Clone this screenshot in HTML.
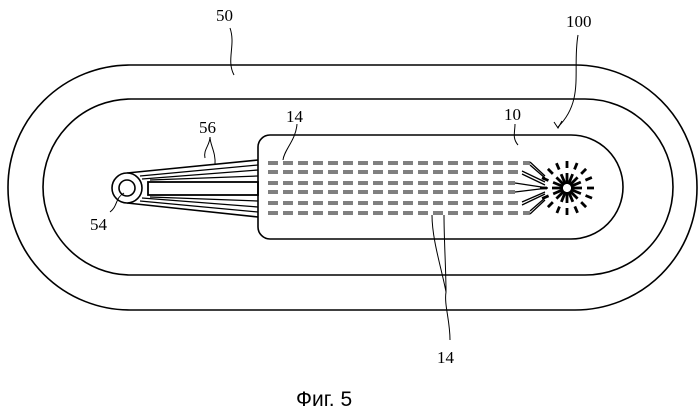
<!DOCTYPE html>
<html><head><meta charset="utf-8"><style>
html,body{margin:0;padding:0;background:#fff;}
svg{display:block;}
text{font-family:"Liberation Serif",serif;font-size:17px;fill:#000;}
</style></head><body>
<svg width="699" height="410" viewBox="0 0 699 410" xmlns="http://www.w3.org/2000/svg">
<g fill="none" stroke="#000" stroke-width="1.6">
<rect x="8" y="65" width="689" height="245" rx="122" ry="122"/>
<rect x="43" y="99" width="630" height="176" rx="88" ry="88"/>
<path d="M270 135 H571 A52 52 0 0 1 571 239 H270 A12 12 0 0 1 258 227 V147 A12 12 0 0 1 270 135 Z"/>
<path d="M127 173 L258 160 M127 203 L258 217"/>
<circle cx="127" cy="188" r="15" fill="#fff"/>
<circle cx="127" cy="188" r="8"/>
<rect x="148" y="182" width="110" height="13" stroke-width="1.8"/>
</g>
<g stroke="#000" stroke-width="1.3" fill="none">
<path d="M140 176 L258 165 M142 179 L258 170 M142 198 L258 207 M140 201 L258 212"/>
<path d="M150 180 L258 176 M150 197 L258 201"/>
</g>
<g stroke="#000" stroke-width="3" fill="none" stroke-dasharray="10,5">
<path d="M268 163 H530"/>
<path d="M268 172 H522"/>
<path d="M268 183 H515"/>
<path d="M268 192 H515"/>
<path d="M268 203 H522"/>
<path d="M268 213 H530"/>
</g>
<g stroke="#fff" stroke-width="1" fill="none">
<path d="M268 163 H530 M268 172 H522 M268 183 H515 M268 192 H515 M268 203 H522 M268 213 H530"/>
</g>
<g stroke="#000" stroke-width="1.3" fill="none">
<path d="M530 162 L545 176 M530 165 L545 178 M522 171 L545 182 M522 174 L545 185"/>
<path d="M530 211 L545 198 M530 214 L545 200 M522 202 L545 192 M522 205 L545 194"/>
<path d="M515 183 L548 188 M515 192 L548 188"/>
</g>
<g stroke="#000" stroke-width="2.8" stroke-linecap="butt">
<g transform="translate(567,188)">
<path d="M0 -15 V-4 M0 -27 V-20"/>
<path d="M0 -15 V-4 M0 -27 V-20" transform="rotate(22)"/>
<path d="M0 -15 V-4 M0 -27 V-20" transform="rotate(45)"/>
<path d="M0 -15 V-4 M0 -27 V-20" transform="rotate(67)"/>
<path d="M0 -15 V-4 M0 -27 V-20" transform="rotate(90)"/>
<path d="M0 -15 V-4 M0 -27 V-20" transform="rotate(112)"/>
<path d="M0 -15 V-4 M0 -27 V-20" transform="rotate(135)"/>
<path d="M0 -15 V-4 M0 -27 V-20" transform="rotate(157)"/>
<path d="M0 -15 V-4 M0 -27 V-20" transform="rotate(180)"/>
<path d="M0 -15 V-4 M0 -27 V-20" transform="rotate(202)"/>
<path d="M0 -15 V-4 M0 -27 V-20" transform="rotate(225)"/>
<path d="M0 -15 V-4 M0 -27 V-20" transform="rotate(247)"/>
<path d="M0 -15 V-4 M0 -27 V-20" transform="rotate(270)"/>
<path d="M0 -15 V-4 M0 -27 V-20" transform="rotate(292)"/>
<path d="M0 -15 V-4 M0 -27 V-20" transform="rotate(315)"/>
<path d="M0 -15 V-4 M0 -27 V-20" transform="rotate(337)"/>
</g>
</g>
<g stroke="#000" stroke-width="1" fill="none">
<path d="M230 28 C236 45 226 60 234 75"/>
<path d="M578 35 C572 70 585 100 558 127"/>
<path d="M554 122 L558 128 L562 121"/>
<path d="M297 124 C296 140 284 150 283 160"/>
<path d="M515 124 C515 132 512 138 518 145"/>
<path d="M210 137 C210 145 203 150 205 158 M210 137 C210 145 216 152 215 165"/>
<path d="M110 212 C118 206 115 198 124 193"/>
<path d="M450 340 C450 320 444 305 446 292 C442 270 432 240 432 215 M446 292 C446 270 444 240 444 215"/>
</g>
<text x="216" y="21">50</text>
<text x="566" y="27">100</text>
<text x="286" y="122">14</text>
<text x="504" y="120">10</text>
<text x="199" y="133">56</text>
<text x="90" y="230">54</text>
<text x="437" y="363">14</text>
<text x="296" y="406" style="font-family:'Liberation Sans',sans-serif;font-size:21px">Фиг. 5</text>
</svg>
</body></html>
